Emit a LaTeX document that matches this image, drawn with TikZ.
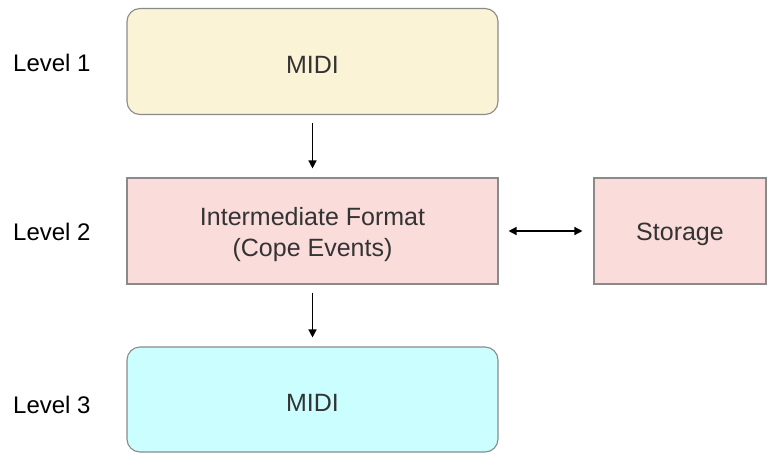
\documentclass[tikz,border=0pt]{standalone}
\usepackage{fontspec}
\setmainfont{Liberation Sans}
\usetikzlibrary{arrows.meta}
\definecolor{yel}{HTML}{FBF3D5}
\definecolor{pnk}{HTML}{FADCDB}
\definecolor{cyn}{HTML}{CBFFFF}
\definecolor{bord}{HTML}{8A8A8A}
\definecolor{txt}{HTML}{333333}
\newcommand{\lowr}[1]{\raisebox{-3.5pt}[\height][\depth]{#1}}
\begin{document}
\begin{tikzpicture}[x=1pt,y=-1pt,
  box/.style={draw=bord,line width=1.1pt,minimum height=106pt,inner sep=0pt,align=center,
    text=txt,font=\fontsize{25}{31}\selectfont},
  lvl/.style={anchor=west,inner sep=0pt,font=\fontsize{24}{28}\selectfont},
  arr/.style={line width=1.4pt,-{Triangle[length=8pt,width=8pt]}},
  darr/.style={line width=1.4pt,{Triangle[length=8pt,width=8pt]}-{Triangle[length=8pt,width=8pt]}}]
\useasboundingbox (0,0) rectangle (770,453);
\node[box,rounded corners=13pt,fill=yel,minimum width=371pt] (m1) at (312.5,61.5) {\lowr{MIDI}};
\node[box,fill=pnk,minimum width=371pt] (im) at (312.5,231) {\lowr{Intermediate Format}\\\lowr{(Cope Events)}};
\node[box,fill=pnk,minimum width=172pt] (st) at (680,231) {\lowr{Storage}};
\node[box,rounded corners=13pt,fill=cyn,minimum width=371pt,minimum height=105pt] (m3) at (312.5,399.5) {\lowr{MIDI}};
\node[lvl] (l1) at (13,63) {Level 1};
\node[lvl] (l2) at (13,232) {Level 2};
\node[lvl] (l3) at (13,405) {Level 3};
\draw[arr,shorten <=8pt,shorten >=9pt] (m1.south) -- (im.north);
\draw[arr,shorten <=8pt,shorten >=9pt] (im.south) -- (m3.north);
\draw[darr,shorten <=10pt,shorten >=11pt] (im.east) -- (st.west);
\end{tikzpicture}
\end{document}
